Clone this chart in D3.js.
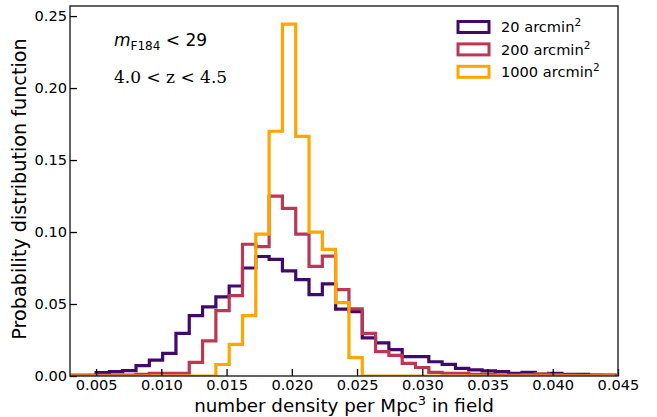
<!DOCTYPE html>
<html>
<head>
<meta charset="utf-8">
<script src="https://cdn.jsdelivr.net/npm/d3@7"></script>
<style>
  body { margin: 0; background: #fff; }
  svg { display: block; }
  text { font-family: "DejaVu Sans", sans-serif; fill: #000; }
</style>
</head>
<body>
<svg id="chart" width="657" height="417"></svg>
<script>
// histogram bins: 41 equal bins
var binStart = 0.00296,
  binWidth = 0.00102

// probability per bin
var area20 = [0.0005, 0.0005, 0.0023, 0.003, 0.0037, 0.0072, 0.011, 0.0157, 0.0296, 0.042,
  0.048, 0.055, 0.0625, 0.075, 0.083, 0.081, 0.073, 0.067, 0.0565, 0.064,
  0.0465, 0.0447, 0.0265, 0.023, 0.0183, 0.0135, 0.0135, 0.0099, 0.0081, 0.0053,
  0.0042, 0.0035, 0.003, 0.0019, 0.0026, 0.0005, 0.0019, 0.0012, 0.0012, 0.0007, 0.0007]
var area200 = [0.0005, 0.0005, 0.0007, 0.0007, 0.0007, 0.0012, 0.0019, 0.0019, 0.0019, 0.0095,
  0.0244, 0.0454, 0.0558, 0.0915, 0.0898, 0.125, 0.1164, 0.0986, 0.0762, 0.0833,
  0.060, 0.0466, 0.0296, 0.017, 0.0143, 0.0088, 0.0059, 0.0025, 0.0019, 0.0019,
  0.0012, 0.0012, 0.0007, 0.0007, 0.001, 0.0015, 0.001, 0.0007, 0.0005, 0.0005, 0.0003]
var area1000 = [0, 0, 0, 0, 0, 0, 0, 0, 0, 0,
  0, 0.008, 0.022, 0.042, 0.0985, 0.170, 0.2444, 0.1665, 0.100, 0.088,
  0.051, 0.0127, 0, 0, 0, 0, 0, 0, 0, 0,
  0, 0, 0, 0, 0, 0, 0, 0, 0, 0, 0]

var seriesNames = ["20 arcmin", "200 arcmin", "1000 arcmin"]
var seriesColors = ["#420a68", "#bc3754", "#ffa500"]
var xTicks = [0.005, 0.010, 0.015, 0.020, 0.025, 0.030, 0.035, 0.040, 0.045]
var yTicks = [0, 0.05, 0.10, 0.15, 0.20, 0.25]

var width = 657,
  height = 417,
  margin = { top: 6, right: 39, bottom: 41, left: 70 }

var svg = d3.select("#chart")

var x = d3.scaleLinear().domain([0.003, 0.045]).range([margin.left, width - margin.right])
var y = d3.scaleLinear().domain([0, 0.257]).range([height - margin.bottom, margin.top])

svg.append("clipPath").attr("id", "plotclip")
  .append("rect")
  .attr("x", margin.left).attr("y", margin.top)
  .attr("width", width - margin.left - margin.right)
  .attr("height", height - margin.top - margin.bottom)

// step outline like histtype='step'
function stepPoints(values) {
  var pts = [[binStart, 0]]
  values.forEach(function (v, i) {
    pts.push([binStart + i * binWidth, v])
    pts.push([binStart + (i + 1) * binWidth, v])
  })
  pts.push([binStart + values.length * binWidth, 0])
  return pts
}

var line = d3.line()
  .x(function (d) { return x(d[0]); })
  .y(function (d) { return y(d[1]); })

var plot = svg.append("g").attr("clip-path", "url(#plotclip)")
;[area20, area200, area1000].forEach(function (vals, i) {
  plot.append("path")
    .attr("d", line(stepPoints(vals)))
    .attr("fill", "none")
    .attr("stroke", seriesColors[i])
    .attr("stroke-width", 3.2)
    .attr("stroke-linejoin", "miter")
})

// axes, ticks pointing in
var xAxis = svg.append("g")
  .attr("transform", "translate(0," + (height - margin.bottom) + ")")
  .call(d3.axisBottom(x).tickValues(xTicks).tickFormat(d3.format(".3f"))
    .tickSizeInner(-7).tickSizeOuter(0).tickPadding(3.5))
var yAxis = svg.append("g")
  .attr("transform", "translate(" + margin.left + ",0)")
  .call(d3.axisLeft(y).tickValues(yTicks).tickFormat(d3.format(".2f"))
    .tickSizeInner(-7).tickSizeOuter(0).tickPadding(3))

;[xAxis, yAxis].forEach(function (g) {
  g.select(".domain").remove()
  g.selectAll(".tick line").attr("stroke", "#000").attr("stroke-width", 1.3)
  g.selectAll(".tick text")
    .style("font-family", "DejaVu Sans")
    .style("font-size", "14.6px")
    .attr("fill", "#000")
})

svg.append("rect")
  .attr("x", margin.left).attr("y", margin.top)
  .attr("width", width - margin.left - margin.right)
  .attr("height", height - margin.top - margin.bottom)
  .attr("fill", "none")
  .attr("stroke", "#222")
  .attr("stroke-width", 1.4)

// axis labels
var xl = svg.append("text")
  .attr("x", (margin.left + width - margin.right) / 2)
  .attr("y", 412)
  .attr("text-anchor", "middle")
  .style("font-size", "18.3px")
xl.append("tspan").text("number density per Mpc")
xl.append("tspan").attr("dy", -7).style("font-size", "13px").text("3")
xl.append("tspan").attr("dy", 7).text(" in field")

svg.append("text")
  .attr("transform", "translate(26," + ((margin.top + height - margin.bottom) / 2 - 2) + ") rotate(-90)")
  .attr("text-anchor", "middle")
  .style("font-size", "19.2px")
  .text("Probability distribution function")

// annotations
var a1 = svg.append("text").attr("x", 114).attr("y", 46).style("font-size", "17px")
a1.append("tspan").style("font-style", "italic").text("m")
a1.append("tspan").attr("dy", 4).style("font-size", "12px").text("F184")
a1.append("tspan").attr("dy", -4).text(" < 29")

svg.append("text")
  .attr("x", 114).attr("y", 83)
  .style("font-family", "DejaVu Serif")
  .style("font-size", "17px")
  .text("4.0 < z < 4.5")

// legend
var legend = svg.append("g")
seriesNames.forEach(function (name, i) {
  var ly = 27 + i * 22.4
  legend.append("rect")
    .attr("x", 458).attr("y", ly - 5.5)
    .attr("width", 31).attr("height", 11)
    .attr("fill", "#fff")
    .attr("stroke", seriesColors[i])
    .attr("stroke-width", 3)
  var t = legend.append("text")
    .attr("x", 501).attr("y", ly + 5.3)
    .style("font-size", "14.6px")
  t.append("tspan").text(name)
  t.append("tspan").attr("dy", -6).style("font-size", "10.5px").text("2")
})
</script>
</body>
</html>
